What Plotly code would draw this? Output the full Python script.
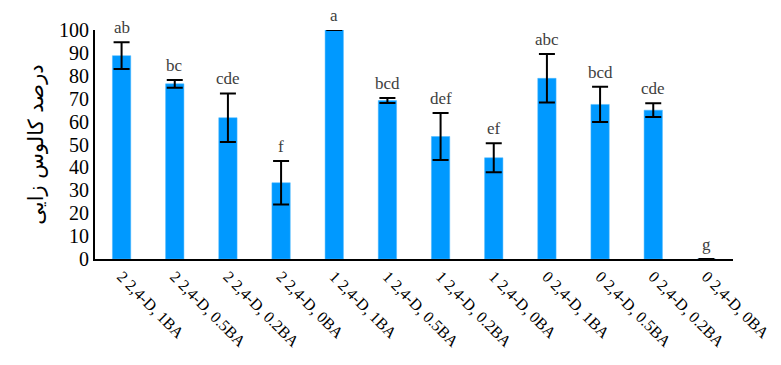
import plotly.graph_objects as go

categories = ["2 2,4-D, 1BA", "2 2,4-D, 0.5BA", "2 2,4-D, 0.2BA", "2 2,4-D, 0BA",
              "1 2,4-D, 1BA", "1 2,4-D, 0.5BA", "1 2,4-D, 0.2BA", "1 2,4-D, 0BA",
              "0 2,4-D, 1BA", "0 2,4-D, 0.5BA", "0 2,4-D, 0.2BA", "0 2,4-D, 0BA"]
values = [88.8, 76.5, 61.7, 33.3, 100, 69.2, 53.5, 44.2, 78.9, 67.5, 65.0, 0]
errors = [5.8, 1.7, 10.6, 9.5, 0, 1.1, 10.3, 6.3, 10.6, 7.7, 3.0, 0]
letters = ["ab", "bc", "cde", "f", "a", "bcd", "def", "ef", "abc", "bcd", "cde", "g"]
y_ticks = [0, 10, 20, 30, 40, 50, 60, 70, 80, 90, 100]
y_title = "درصد کالوس زایی"

fig = go.Figure()
fig.add_trace(go.Bar(
    x=categories, y=values,
    marker=dict(color="#0099ff", line=dict(color="#4db8ff", width=0.5)),
    width=0.345,
    error_y=dict(type="data", array=errors, visible=True, color="black",
                 thickness=2, width=8),
    cliponaxis=False,
))

for c, v, e, l in zip(categories, values, errors, letters):
    fig.add_annotation(x=c, y=v + e, text=l, showarrow=False, yanchor="bottom",
                       yshift=3, font=dict(family="Liberation Serif", size=17, color="#404040"))

fig.update_layout(
    width=781, height=365,
    margin=dict(l=95, r=48, t=30, b=106),
    paper_bgcolor="white", plot_bgcolor="white",
    showlegend=False,
    xaxis=dict(tickangle=45, showline=True, linecolor="black", linewidth=2,
               tickfont=dict(family="Liberation Serif", size=16, color="black"),
               ticks="", showgrid=False, automargin=False),
    yaxis=dict(range=[0, 100], tickvals=y_ticks, showline=True, linecolor="black",
               linewidth=2, showgrid=False, zeroline=False, ticks="",
               tickfont=dict(family="Liberation Serif", size=20, color="black"),
               automargin=False,
               title=dict(text=y_title, font=dict(family="DejaVu Sans", size=21, color="black"),
                          standoff=10)),
)

fig.write_html("out.html", config={"displayModeBar": False},
               post_script="document.body.style.margin='0';")
